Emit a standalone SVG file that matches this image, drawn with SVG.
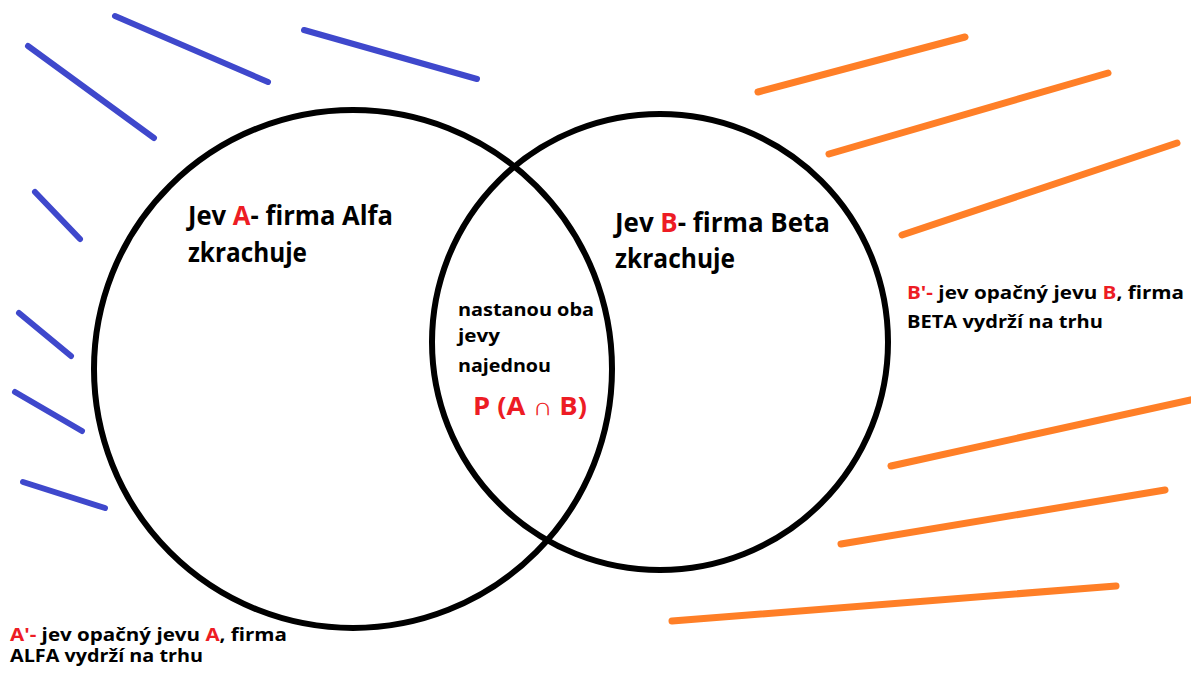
<svg xmlns="http://www.w3.org/2000/svg" width="1191" height="673" viewBox="0 0 1191 673">
<style>
.bg{fill:#ffffff}
.blue{stroke:#3f48cc;stroke-width:6;stroke-linecap:round;fill:none}
.orange{stroke:#ff7f27;stroke-width:7;stroke-linecap:round;fill:none}
.circ{stroke:#000000;stroke-width:6;fill:none}
text{font-family:"Open Sans","Noto Sans","Liberation Sans",sans-serif;font-weight:bold;fill:#000000}
.big{font-size:26px}
.mid{font-size:18px}
.sm{font-size:17px}
.pab{font-size:25px;fill:#ed1c24}
.r{fill:#ed1c24}
</style>
<rect class="bg" x="0" y="0" width="1191" height="673"/>
<g id="hatch-blue">
<line class="blue" x1="28" y1="46" x2="154" y2="138"/>
<line class="blue" x1="115" y1="16" x2="268" y2="82"/>
<line class="blue" x1="304" y1="30" x2="477" y2="79"/>
<line class="blue" x1="35" y1="192" x2="80" y2="239"/>
<line class="blue" x1="19" y1="313" x2="71" y2="356"/>
<line class="blue" x1="15" y1="392" x2="82" y2="431"/>
<line class="blue" x1="23" y1="482" x2="105" y2="508"/>
</g>
<g id="hatch-orange">
<line class="orange" x1="758" y1="92" x2="965" y2="37"/>
<line class="orange" x1="829" y1="154" x2="1108" y2="73"/>
<line class="orange" x1="902" y1="235" x2="1177" y2="143"/>
<line class="orange" x1="891" y1="466" x2="1195" y2="399"/>
<line class="orange" x1="841" y1="544" x2="1165" y2="490"/>
<line class="orange" x1="672" y1="621" x2="1116" y2="586"/>
</g>
<g id="setA">
<ellipse class="circ" cx="353" cy="369" rx="259" ry="259"/>
<text class="big" x="188" y="225" textLength="205" lengthAdjust="spacingAndGlyphs">Jev <tspan class="r">A</tspan>- firma Alfa</text>
<text class="big" x="188" y="262" textLength="119" lengthAdjust="spacingAndGlyphs">zkrachuje</text>
</g>
<g id="setB">
<ellipse class="circ" cx="660" cy="342" rx="228" ry="228"/>
<text class="big" x="615" y="232" textLength="215" lengthAdjust="spacingAndGlyphs">Jev <tspan class="r">B</tspan>- firma Beta</text>
<text class="big" x="615" y="268" textLength="120" lengthAdjust="spacingAndGlyphs">zkrachuje</text>
</g>
<g id="intersection">
<text class="mid" x="458" y="316" textLength="136" lengthAdjust="spacingAndGlyphs">nastanou oba</text>
<text class="mid" x="458" y="342" textLength="42" lengthAdjust="spacingAndGlyphs">jevy</text>
<text class="mid" x="458" y="372" textLength="93" lengthAdjust="spacingAndGlyphs">najednou</text>
<text class="pab" x="473" y="415" textLength="114" lengthAdjust="spacingAndGlyphs">P (A ∩ B)</text>
</g>
<g id="complementA">
<text class="sm" x="10" y="641" textLength="277" lengthAdjust="spacingAndGlyphs"><tspan class="r">A'-</tspan> jev opačný jevu <tspan class="r">A</tspan>, firma</text>
<text class="sm" x="10" y="662" textLength="193" lengthAdjust="spacingAndGlyphs">ALFA vydrží na trhu</text>
</g>
<g id="complementB">
<text class="sm" x="907" y="299" textLength="277" lengthAdjust="spacingAndGlyphs"><tspan class="r">B'-</tspan> jev opačný jevu <tspan class="r">B</tspan>, firma</text>
<text class="sm" x="907" y="328" textLength="196" lengthAdjust="spacingAndGlyphs">BETA vydrží na trhu</text>
</g>
</svg>
